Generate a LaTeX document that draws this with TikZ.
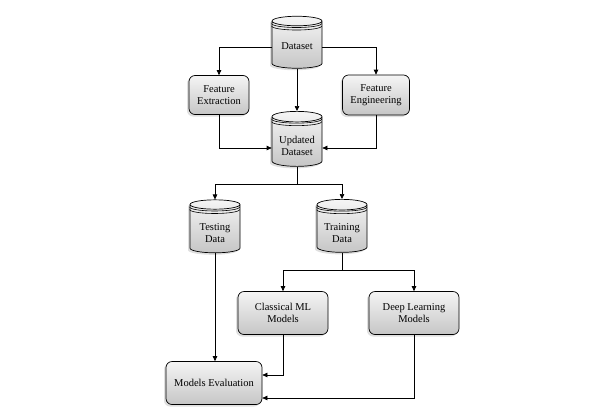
\documentclass[tikz,border=0pt]{standalone}
\usepackage{fontspec}
\setmainfont{Liberation Serif}
\usetikzlibrary{shapes.geometric,arrows.meta,shadows}
\begin{document}
\begin{tikzpicture}[x=1pt,y=-1pt,
  font=\fontsize{10.5}{12}\selectfont,
  box/.style={draw=black,line width=0.7pt,rounded corners=6pt,align=center,top color=gray!8,bottom color=gray!45,
    drop shadow={shadow xshift=-2pt,shadow yshift=-2pt,fill=black!25,opacity=.5}},
  db/.style={draw=black,line width=0.7pt,cylinder,shape border rotate=90,aspect=0.25,align=center,
    top color=gray!8,bottom color=gray!45,minimum width=50pt,
    drop shadow={shadow xshift=-2pt,shadow yshift=-2pt,fill=black!25,opacity=.5}},
  arr/.style={-{Triangle[length=5pt,width=4.5pt]},draw=black,line width=0.7pt}]
\useasboundingbox (0,0) rectangle (601,418);
\newcommand\rings[1]{%
  \foreach \k in {2.5,5}{\draw[black,line width=0.6pt] ([yshift=-\k pt]#1.before top) arc[start angle=180,end angle=360,x radius=25pt,y radius=4pt];}}
\node[db,minimum height=52pt] (ds) at (297,46) {Dataset};
\node[box,minimum width=60pt,minimum height=39pt] (fe) at (219,95) {Feature\\Extraction};
\node[box,minimum width=67pt,minimum height=40pt] (fg) at (376,95) {Feature\\Engineering};
\node[db,minimum height=55pt] (ud) at (297,143) {\\[2pt]Updated\\Dataset};
\node[db,minimum height=53pt] (te) at (215,230) {\\[2pt]Testing\\Data};
\node[db,minimum height=53pt] (tr) at (342,230) {\\[2pt]Training\\Data};
\node[box,minimum width=90pt,minimum height=43pt] (cm) at (283,313) {Classical ML\\Models};
\node[box,minimum width=90pt,minimum height=43pt] (dl) at (414,313) {Deep Learning\\Models};
\node[box,minimum width=96pt,minimum height=43pt] (me) at (214,383) {Models Evaluation};
\rings{ds}\rings{ud}\rings{te}\rings{tr}
\draw[arr] (ds.west|-0,47) -| (fe.north);
\draw[arr] (ds.east|-0,47) -| (fg.north);
\draw[arr] (ds.bottom) -- (ud.top);
\draw[arr] (fe.south) |- (ud.west|-0,148);
\draw[arr] (fg.south) |- (ud.east|-0,148);
\coordinate (s1) at (297,184);
\draw[line width=0.7pt] (ud.bottom) -- (s1);
\draw[arr] (s1) -| (te.top);
\draw[arr] (s1) -| (tr.top);
\coordinate (s2) at (342,270);
\draw[line width=0.7pt] (tr.bottom) -- (s2);
\draw[arr] (s2) -| (cm.north);
\draw[arr] (s2) -| (dl.north);
\draw[arr] (te.bottom) -- (me.north-|te.bottom);
\draw[arr] (cm.south) |- (me.east|-0,375);
\draw[arr] (dl.south) |- (me.east|-0,398);
\end{tikzpicture}
\end{document}
